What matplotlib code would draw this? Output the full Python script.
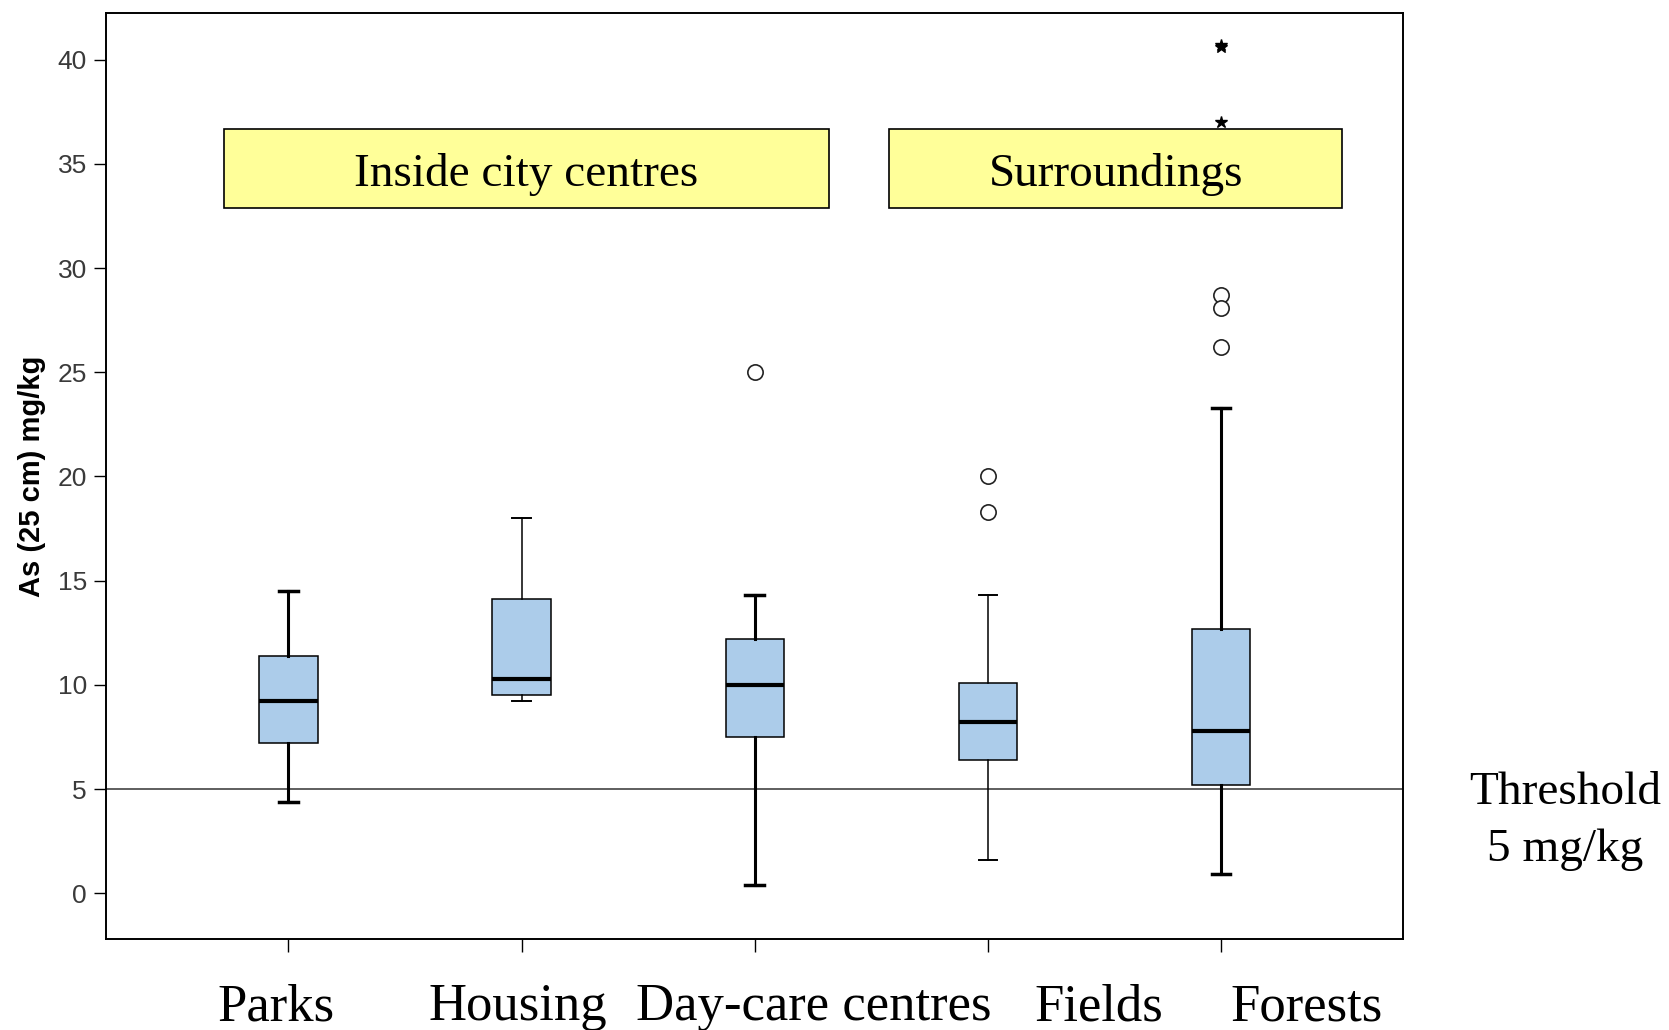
import numpy as np
import matplotlib.pyplot as plt
from matplotlib.patches import Rectangle
from matplotlib import transforms

# Box summary values (As in mg/kg)
categories = ['Parks', 'Housing', 'Day-care centres', 'Fields', 'Forests']
whis_lo = [4.4, 9.2, 0.4, 1.6, 0.9]
q1 = [7.2, 9.5, 7.5, 6.4, 5.2]
medians = [9.2, 10.3, 10.0, 8.2, 7.8]
q3 = [11.4, 14.1, 12.2, 10.1, 12.7]
whis_hi = [14.5, 18.0, 14.3, 14.3, 23.3]
outliers = [[], [], [25.0], [20.0, 18.3], [28.7, 28.1, 26.2]]
extremes = [[], [], [], [], [40.7, 40.6, 37.0]]
threshold = 5
yticks = [0, 5, 10, 15, 20, 25, 30, 35, 40]

positions = np.arange(1, len(categories) + 1)

fig = plt.figure(figsize=(16.69, 10.30), dpi=100)
ax = fig.add_axes([0.0638, 0.0883, 0.7768, 0.8993])

stats = []
for i, name in enumerate(categories):
    stats.append(dict(label=name, med=medians[i], q1=q1[i], q3=q3[i],
                      whislo=whis_lo[i], whishi=whis_hi[i], fliers=outliers[i]))

# thick / thin whiskers as in the original rendering
wlw = [2.2, 1.1, 2.2, 1.1, 2.2]

bp = ax.bxp(stats, positions=positions, widths=0.25, patch_artist=True,
            capwidths=0.08, showfliers=True,
            boxprops=dict(facecolor='#acccea', edgecolor='black', linewidth=1.1),
            medianprops=dict(color='black', linewidth=3.0),
            flierprops=dict(marker='o', markerfacecolor='white', markeredgecolor='#222222',
                            markersize=11, markeredgewidth=1.2))
for i in range(len(categories)):
    for w in bp['whiskers'][2 * i:2 * i + 2]:
        w.set_linewidth(wlw[i])
        w.set_color('black')
    for c in bp['caps'][2 * i:2 * i + 2]:
        c.set_linewidth(wlw[i] + 0.3)
        c.set_color('black')

# extreme values drawn as stars
for i, vals in enumerate(extremes):
    if vals:
        ax.plot([positions[i]] * len(vals), vals, linestyle='none', marker='*',
                color='black', markersize=9, zorder=2)

# threshold line
ax.axhline(threshold, color='#333333', linewidth=1.1, zorder=1)

ax.set_xlim(0.22, 5.78)
ax.set_ylim(-2.2, 42.25)
ax.set_yticks(yticks)
ax.set_xticks(positions)
ax.set_xticklabels([])
ax.tick_params(axis='y', length=9, width=1, pad=5, labelsize=19, labelcolor='#3a3a3a',
               direction='out')
ax.tick_params(axis='x', length=9, width=1, direction='out')
for lab in ax.get_yticklabels():
    lab.set_family('Liberation Sans')
for s in ax.spines.values():
    s.set_linewidth(1.4)

ax.set_ylabel('As (25 cm) mg/kg', fontsize=21, fontweight='bold',
              family=['Liberation Sans Narrow', 'Liberation Sans'])
ax.yaxis.set_label_coords(-0.047, 0.5)

# group boxes
serif = 'Liberation Serif'
groups = [('Inside city centres', 0.726, 3.317), ('Surroundings', 3.577, 5.52)]
for txt, x0, x1 in groups:
    ax.add_patch(Rectangle((x0, 32.9), x1 - x0, 36.68 - 32.9, facecolor='#ffff99',
                           edgecolor='black', linewidth=1.2, zorder=4))
    ax.text((x0 + x1) / 2, (32.9 + 36.68) / 2 - 0.3, txt, ha='center', va='center',
            fontsize=34, family=serif, zorder=5)

# category labels under the axis
trans = transforms.blended_transform_factory(ax.transData, fig.transFigure)
label_x = [0.945, 1.985, 3.253, 4.475, 5.365]
for name, x in zip(categories, label_x):
    fig.text(x, 0.022, name, transform=trans, ha='center', va='center',
             fontsize=38, family=serif)

fig.text(0.938, 0.203, 'Threshold\n5 mg/kg', ha='center', va='center',
         fontsize=34, family=serif, linespacing=1.45)

fig.savefig('out.png', dpi=100)
